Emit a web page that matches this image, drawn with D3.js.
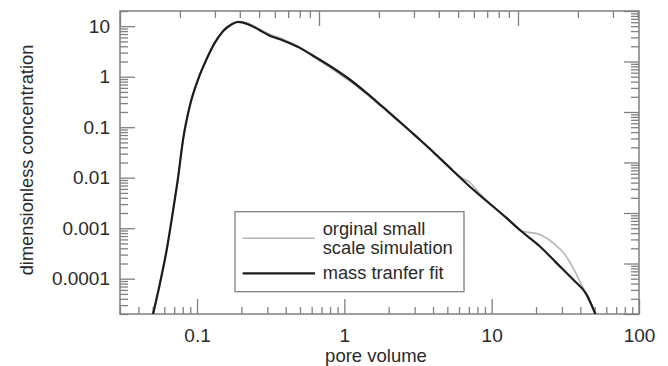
<!DOCTYPE html>
<html>
<head>
<meta charset="utf-8">
<script src="https://cdn.jsdelivr.net/npm/d3@7"></script>
<style>
	body { margin: 0; background: #fff; }
	svg { display: block; font-family: "Liberation Sans", Arial, sans-serif; }
	.frame { fill: none; stroke: #808080; stroke-width: 1.5; }
	.axis path { display: none; }
	.axis line { stroke: #808080; stroke-width: 1.3; }
	.axis text { fill: #2a2a2a; font-size: 19px; font-family: "Liberation Sans", Arial, sans-serif; }
</style>
</head>
<body>
<svg id="chart" width="668" height="366"></svg>
<script>
// pore volume vs dimensionless concentration
const fitPV = [0.0500, 0.0558, 0.0620, 0.0687, 0.0743, 0.0804, 0.0892, 0.1016, 0.1158, 0.1319, 0.150, 0.171, 0.190,
	0.228, 0.2665, 0.3115, 0.3836, 0.498, 0.6464, 0.838, 1.088, 1.413, 1.83, 2.377, 3.087, 4.0, 5.19, 7.48,
	12.6, 15.9, 21.2, 27.5, 35.7, 44.0, 50.9];
const fitC = [1.85e-5, 7.7e-5, 3.5e-4, 2.2e-3, 9.9e-3, 0.057, 0.26, 0.88, 2.19, 4.67, 7.96, 10.8, 12.2,
	10.6, 8.3, 6.5, 5.2, 3.72, 2.38, 1.49, 0.88, 0.478, 0.249, 0.1285, 0.0649, 0.0327, 0.0158, 5.83e-3,
	1.6e-3, 8.7e-4, 4.4e-4, 2.06e-4, 9.6e-5, 4.9e-5, 1.9e-5];

const simPV = [0.0500, 0.0558, 0.0620, 0.0687, 0.0743, 0.0804, 0.0892, 0.1016, 0.1158, 0.1319, 0.150, 0.171, 0.190,
	0.228, 0.2665, 0.3115, 0.3836, 0.498, 0.6464, 0.838, 1.088, 1.413, 1.83, 2.377, 3.087, 4.0, 5.19, 6.37,
	7.1, 7.92, 12.6, 15.9, 21.2, 26.1, 31.4, 35.7, 39.6, 44.0, 48.8, 50.9];
const simC = [1.85e-5, 7.7e-5, 3.5e-4, 2.2e-3, 9.9e-3, 0.057, 0.26, 0.88, 2.19, 4.67, 7.96, 10.8, 12.2,
	11.0, 8.7, 6.95, 5.53, 3.84, 2.27, 1.38, 0.815, 0.45, 0.243, 0.123, 0.0634, 0.0313, 0.0158, 9.55e-3,
	8.15e-3, 5.65e-3, 1.6e-3, 8.9e-4, 7.5e-4, 5.1e-4, 3.0e-4, 1.64e-4, 8.9e-5, 4.9e-5, 2.6e-5, 1.9e-5];

const xTicks = [0.1, 1, 10, 100];
const xTickLabels = ['0.1', '1', '10', '100'];
const yTicks = [10, 1, 0.1, 0.01, 0.001, 0.0001];
const yTickLabels = ['10', '1', '0.1', '0.01', '0.001', '0.0001'];
const legendLabels = [['orginal small', 'scale simulation'], ['mass tranfer fit']];

const svg = d3.select('#chart');
const L = 120, R = 639, T = 11, B = 314;

const x = d3.scaleLog().domain([0.03, 100]).range([L, R]);
const y = d3.scaleLog().domain([2e-5, 20]).range([B, T]);
// unlabelled mirror axes on top and right use their own decades
const xTop = d3.scaleLog().domain([1, Math.pow(10, (R - L) / 199)]).range([L, R]);
const yRight = d3.scaleLog().domain([1, 1e6]).range([B, T]);

const isMajor = d => Math.abs(Math.log10(d) - Math.round(Math.log10(d))) < 1e-6;

function addAxis (axisFn, scale, tx, ty, major, minor, values, labels) {
	const all = scale.ticks();
	const g = svg.append('g').attr('class', 'axis').attr('transform', `translate(${tx},${ty})`);
	g.append('g').call(axisFn(scale).tickValues(all.filter(d => !isMajor(d))).tickSizeInner(-minor).tickSizeOuter(0).tickFormat(''));
	const maj = g.append('g').call(axisFn(scale)
		.tickValues(values || all.filter(isMajor))
		.tickSizeInner(-major).tickSizeOuter(0)
		.tickPadding(labels ? 12 : 0)
		.tickFormat(labels ? (d, i) => labels[i] : ''));
	return maj;
}

addAxis(d3.axisBottom, x, 0, B, 15, 7, xTicks, xTickLabels)
	.selectAll('text').attr('y', 14.3).attr('dy', '0.71em');
addAxis(d3.axisLeft, y, L, 0, 15, 8, yTicks, yTickLabels)
	.selectAll('text').attr('x', -10);
addAxis(d3.axisTop, xTop, 0, T, 15, 7);
addAxis(d3.axisRight, yRight, R, 0, 15, 8);

svg.append('rect').attr('class', 'frame')
	.attr('x', L).attr('y', T).attr('width', R - L).attr('height', B - T);

// curves
svg.append('clipPath').attr('id', 'clip')
	.append('rect').attr('x', L).attr('y', T).attr('width', R - L).attr('height', B - T);

const line = d3.line()
	.x(d => x(d[0]))
	.y(d => y(d[1]))
	.curve(d3.curveMonotoneX);

const plot = svg.append('g').attr('clip-path', 'url(#clip)');
plot.append('path')
	.attr('d', line(d3.zip(simPV, simC)))
	.attr('fill', 'none').attr('stroke', '#b4b4b4').attr('stroke-width', 1.6);
plot.append('path')
	.attr('d', line(d3.zip(fitPV, fitC)))
	.attr('fill', 'none').attr('stroke', '#1c1c1c').attr('stroke-width', 2.2);

// legend
const lg = svg.append('g');
lg.append('rect')
	.attr('x', 235).attr('y', 211.7).attr('width', 229).attr('height', 80)
	.attr('fill', '#fff').attr('stroke', '#808080').attr('stroke-width', 1.3);
lg.append('line').attr('x1', 242.7).attr('x2', 315).attr('y1', 238.3).attr('y2', 238.3)
	.attr('stroke', '#b4b4b4').attr('stroke-width', 1.6);
lg.append('line').attr('x1', 242.7).attr('x2', 315).attr('y1', 273.3).attr('y2', 273.3)
	.attr('stroke', '#1c1c1c').attr('stroke-width', 2.2);
const lgText = lg.append('text').attr('font-size', '18.3px').attr('fill', '#2a2a2a');
lgText.append('tspan').attr('x', 322.7).attr('y', 235).text(legendLabels[0][0]);
lgText.append('tspan').attr('x', 322.7).attr('y', 254.3).text(legendLabels[0][1]);
lgText.append('tspan').attr('x', 322.7).attr('y', 279.3).text(legendLabels[1][0]);

// axis titles
svg.append('text')
	.attr('x', 376).attr('y', 362)
	.attr('text-anchor', 'middle').attr('font-size', '18.5px').attr('fill', '#2a2a2a')
	.text('pore volume');
svg.append('text')
	.attr('transform', 'translate(33,160)rotate(-90)')
	.attr('text-anchor', 'middle').attr('font-size', '18.3px').attr('fill', '#2a2a2a')
	.text('dimensionless concentration');
</script>
</body>
</html>
